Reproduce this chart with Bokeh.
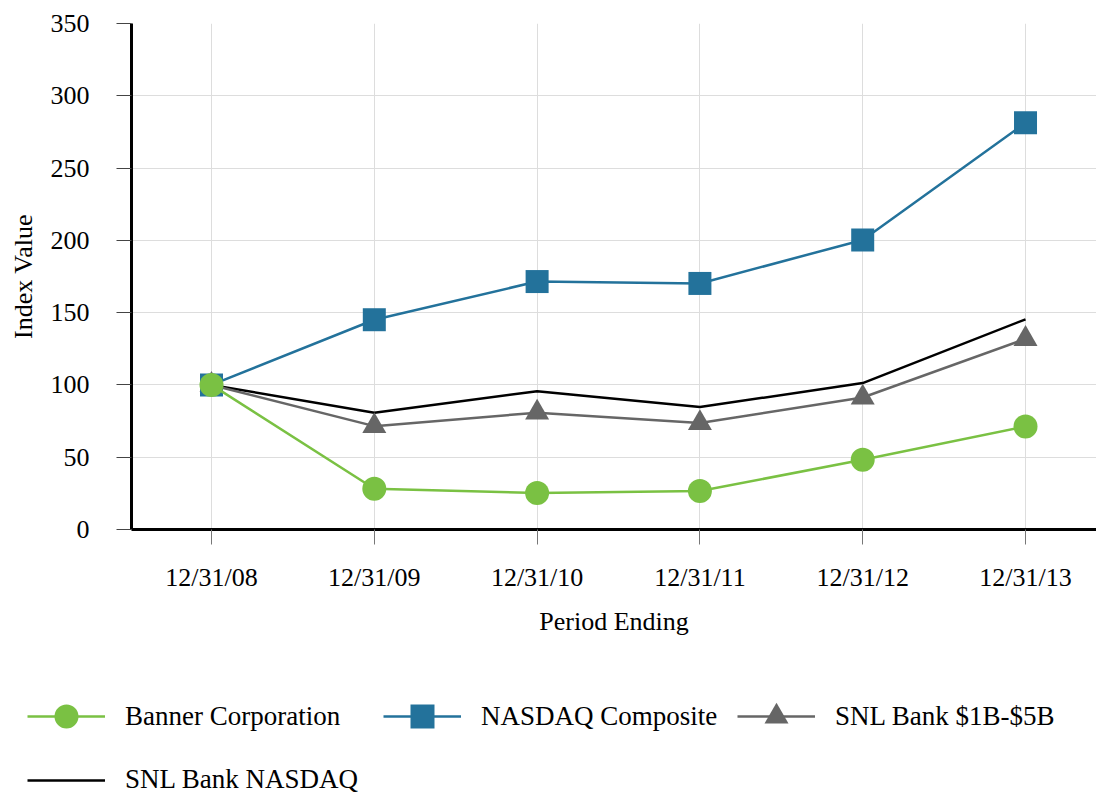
from bokeh.plotting import figure
from bokeh.layouts import column
from bokeh.models import Range1d, FixedTicker, Legend, LegendItem
from bokeh.embed import file_html
from bokeh.resources import INLINE

# ---- data ----
periods = ["12/31/08", "12/31/09", "12/31/10", "12/31/11", "12/31/12", "12/31/13"]
banner = [100, 28.2, 25.2, 26.6, 48.2, 71.3]
nasdaq = [100, 145.1, 171.5, 170.2, 200.3, 281.3]
snl_1b_5b = [100, 71.5, 80.8, 73.6, 91.3, 131.8]
snl_nasdaq = [100, 80.8, 95.7, 84.7, 101.3, 145.4]
y_ticks = [0, 50, 100, 150, 200, 250, 300, 350]

FONT = "Liberation Serif"
GREEN = "#7ac143"
BLUE = "#23729b"
GRAY = "#666666"
BLACK = "#000000"

xs = list(range(len(periods)))

p = figure(width=1096, height=660, output_backend="svg", toolbar_location=None,
           x_range=Range1d(-0.4914, 5.436), y_range=Range1d(0, 350),
           min_border_left=131, min_border_right=0, min_border_top=23,
           min_border_bottom=131)
p.outline_line_color = None
p.background_fill_color = "white"
p.border_fill_color = "white"

# grid
p.xgrid.ticker = FixedTicker(ticks=xs)
p.ygrid.ticker = FixedTicker(ticks=y_ticks)
for g in (p.xgrid, p.ygrid):
    g.grid_line_color = "#dddddd"
    g.grid_line_width = 1

# axes
xa = p.xaxis[0]
xa.ticker = FixedTicker(ticks=xs)
xa.major_label_overrides = {i: lab for i, lab in enumerate(periods)}
xa.axis_label = "Period Ending"
xa.axis_line_width = 3
xa.axis_line_color = "black"
xa.major_tick_in = 0
xa.major_tick_out = 15
xa.major_tick_line_color = "#777777"
xa.minor_tick_line_color = None
xa.major_label_standoff = 18
xa.axis_label_standoff = 12

ya = p.yaxis[0]
ya.ticker = FixedTicker(ticks=y_ticks)
ya.axis_label = "Index Value"
ya.axis_line_width = 3
ya.axis_line_color = "black"
ya.major_tick_in = 0
ya.major_tick_out = 15
ya.major_tick_line_color = "#444444"
ya.minor_tick_line_color = None
ya.major_label_standoff = 27
ya.axis_label_standoff = 10

for ax in (xa, ya):
    ax.major_label_text_font = FONT
    ax.major_label_text_font_size = "26px"
    ax.major_label_text_color = "black"
    ax.axis_label_text_font = FONT
    ax.axis_label_text_font_size = "26px"
    ax.axis_label_text_font_style = "normal"
    ax.axis_label_text_color = "black"

# series: (name, values, colour, marker, size)
series = [
    ("Banner Corporation", banner, GREEN, "circle", 24),
    ("NASDAQ Composite", nasdaq, BLUE, "square", 23),
    ("SNL Bank $1B-$5B", snl_1b_5b, GRAY, "triangle", 24),
    ("SNL Bank NASDAQ", snl_nasdaq, BLACK, None, 0),
]

# draw black line first (underneath), then the others
for name, vals, col, marker, size in [series[3], series[2], series[1], series[0]]:
    p.line(xs, vals, line_color=col, line_width=2.5)
    if marker:
        p.scatter(xs, vals, marker=marker, size=size, fill_color=col,
                  line_color=col, line_width=0)

# ---- legend strip (second figure, its frame spans the whole strip) ----
leg = figure(width=1096, height=138, output_backend="svg", toolbar_location=None,
             x_axis_type=None, y_axis_type=None,
             x_range=Range1d(0, 1), y_range=Range1d(-1000, -999),
             min_border=0, min_border_left=0, min_border_right=0,
             min_border_top=0, min_border_bottom=0)
leg.frame_align = False
leg.outline_line_color = None
leg.xgrid.visible = False
leg.ygrid.visible = False
leg.border_fill_color = "white"
leg.background_fill_color = "white"

# legend key renderers (same series, out of this strip's view; only keys show)
legend_pos = {
    "Banner Corporation": ((27, 52), 60),
    "NASDAQ Composite": ((383, 52), 60),
    "SNL Bank $1B-$5B": ((737, 52), 60),
    "SNL Bank NASDAQ": ((27, 3), 30),
}
for name, vals, col, marker, size in series:
    rs = [leg.line(xs, vals, line_color=col, line_width=2.5)]
    if marker:
        rs.append(leg.scatter(xs, vals, marker=marker, size=size, fill_color=col,
                              line_color=col, line_width=0))
    loc, gh = legend_pos[name]
    lg = Legend(items=[LegendItem(label=name, renderers=rs)],
                location=loc, orientation="horizontal",
                border_line_color=None, background_fill_alpha=0,
                padding=0, margin=0, spacing=0,
                glyph_width=78, glyph_height=gh, label_standoff=20,
                label_text_font=FONT, label_text_font_size="27px",
                label_text_color="black")
    leg.add_layout(lg, "center")

layout = column(p, leg, spacing=0)
open("out.html", "w").write(file_html(layout, INLINE))
